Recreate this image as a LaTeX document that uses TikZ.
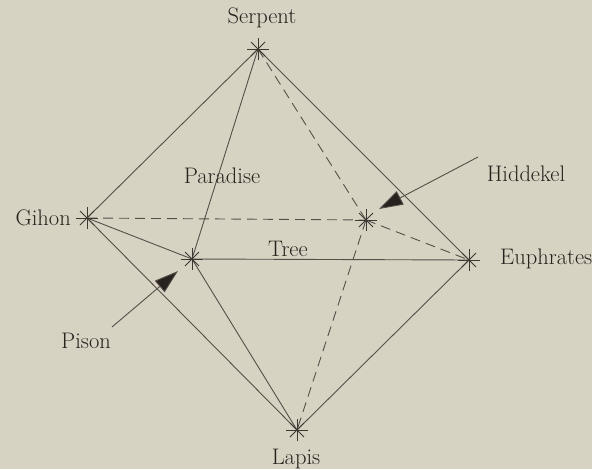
\documentclass[tikz,border=0pt]{standalone}
\usetikzlibrary{arrows.meta}
\definecolor{bg}{RGB}{214,211,195}
\definecolor{ink}{RGB}{88,78,72}
\definecolor{txt}{RGB}{40,34,30}
\begin{document}
\begin{tikzpicture}[x=1pt,y=-1pt,
  edge/.style={draw=ink,line width=0.9pt},
  hidden/.style={draw=ink,line width=0.9pt,dash pattern=on 10pt off 6pt},
  lbl/.style={text=txt,font=\fontsize{22.5}{26}\selectfont,inner sep=0pt},
  pointer/.style={draw=ink,line width=0.9pt,-{Triangle[length=24pt,width=15pt,fill=txt]}}]
\fill[bg] (0,0) rectangle (592,469);
\useasboundingbox (0,0) rectangle (592,469);
\coordinate (S) at (258,49);
\coordinate (G) at (87,218);
\coordinate (P) at (192,259);
\coordinate (H) at (366,220);
\coordinate (E) at (469,260);
\coordinate (L) at (297,430);
% solid edges
\draw[edge] (S) -- (G);
\draw[edge] (S) -- (E);
\draw[edge] (S) -- (P);
\draw[edge] (G) -- (P);
\draw[edge] (G) -- (L);
\draw[edge] (P) -- (E);
\draw[edge] (P) -- (L);
\draw[edge] (E) -- (L);
% hidden edges
\draw[hidden] (S) -- (H);
\draw[hidden] (G) -- (H);
\draw[hidden] (H) -- (E);
\draw[hidden] (H) -- (L);
% star markers
\foreach \v in {S,G,P,H,E,L}{
  \draw[ink!70!black,line width=0.8pt] ([xshift=-11pt]\v) -- ([xshift=11pt]\v);
  \draw[ink!70!black,line width=0.8pt] ([yshift=-11pt]\v) -- ([yshift=11pt]\v);
  \draw[ink!70!black,line width=0.8pt] ([shift={(-7pt,-7pt)}]\v) -- ([shift={(7pt,7pt)}]\v);
  \draw[ink!70!black,line width=0.8pt] ([shift={(-7pt,7pt)}]\v) -- ([shift={(7pt,-7pt)}]\v);
}
% labels
\node[lbl] (tS) at (262,18) {Serpent};
\node[lbl,anchor=east] (tG) at (71,218) {Gihon};
\node[lbl,anchor=west] (tE) at (500,259) {Euphrates};
\node[lbl] (tL) at (296,459) {Lapis};
\node[lbl] (tPa) at (222,176) {Paradise};
\node[lbl] (tT) at (288,249) {Tree};
\node[lbl] (tH) at (526,174) {Hiddekel};
\node[lbl] (tP) at (86,341) {Pison};
% pointers
\coordinate (hA) at (478,157);
\coordinate (hB) at (379,209);
\coordinate (pA) at (112,327);
\coordinate (pB) at (178,271);
\draw[pointer] (hA) -- (hB);
\draw[pointer] (pA) -- (pB);
\end{tikzpicture}
\end{document}
